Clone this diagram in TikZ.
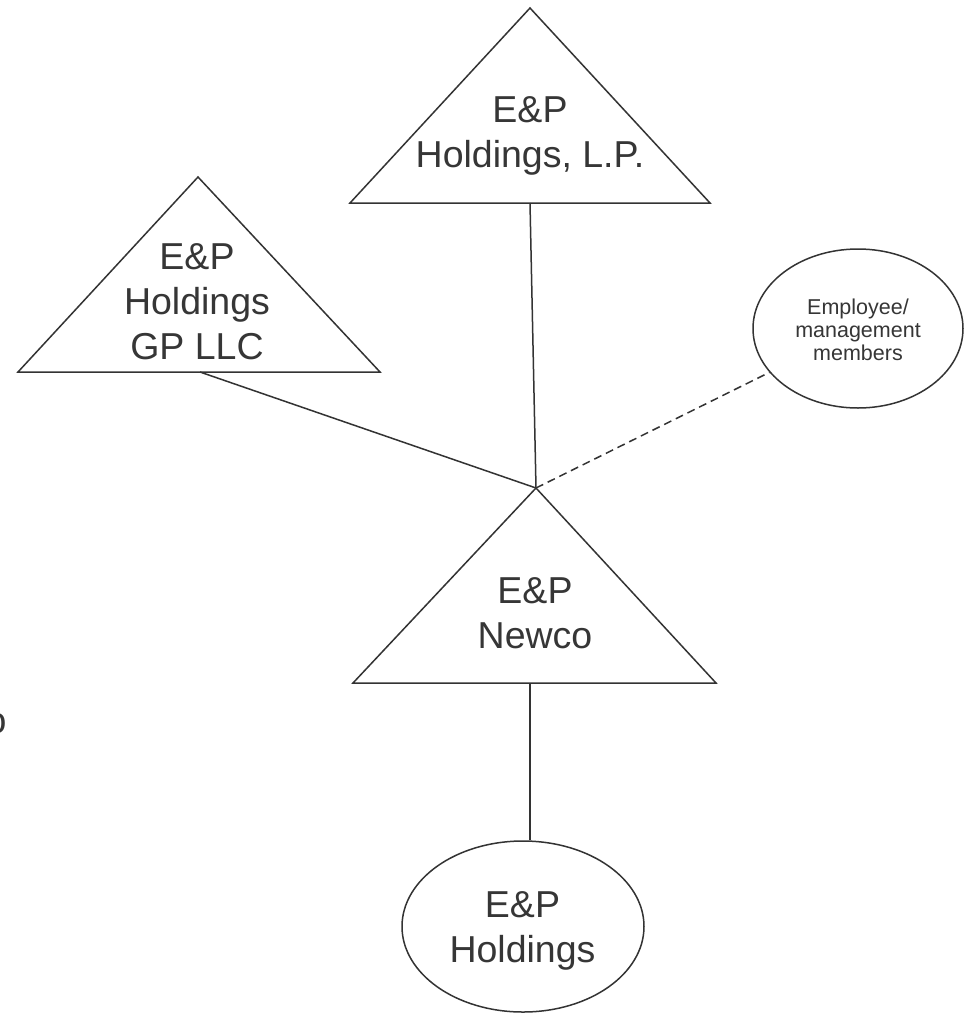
\documentclass[tikz,border=0pt]{standalone}
\usepackage{fontspec}
\setmainfont{Liberation Sans}
\usetikzlibrary{shapes.geometric}
\definecolor{ink}{HTML}{333333}
\definecolor{txt}{HTML}{363636}

\begin{document}
\begin{tikzpicture}[x=1pt,y=-1pt,
  outline/.style={draw=ink, line width=1.5pt, line join=miter},
  link/.style={draw=ink, line width=1.5pt},
  dashlink/.style={draw=ink, line width=1.5pt, dash pattern=on 8pt off 5pt},
  bigtext/.style={font=\fontsize{37.5}{45}\selectfont, text=txt, align=center, inner sep=0pt},
  smalltext/.style={font=\fontsize{21.5}{23}\selectfont, text=txt, align=center, inner sep=0pt},
  oval/.style={ellipse, draw=ink, line width=1.5pt, inner sep=0pt}]

\useasboundingbox (0,0) rectangle (965,1013);
\fill[white] (0,0) rectangle (965,1013);

% E&P Holdings, L.P.
\coordinate (lp-top) at (530,8);
\coordinate (lp-left) at (350,203);
\coordinate (lp-right) at (710,203);
\coordinate (lp-base) at (530,203);
\draw[outline] (lp-top) -- (lp-right) -- (lp-left) -- cycle;
\node[bigtext] (lp) at (530,136) {E\&P\\Holdings, L.P.};

% E&P Holdings GP LLC
\coordinate (gp-top) at (198,177);
\coordinate (gp-left) at (18,372);
\coordinate (gp-right) at (380,372);
\coordinate (gp-base) at (200,372);
\draw[outline] (gp-top) -- (gp-right) -- (gp-left) -- cycle;
\node[bigtext] (gp) at (197,301.5) {E\&P\\Holdings\\GP LLC};

% E&P Newco
\coordinate (nc-top) at (536,488);
\coordinate (nc-left) at (353,683);
\coordinate (nc-right) at (716,683);
\coordinate (nc-base) at (530,683);
\draw[outline] (nc-top) -- (nc-right) -- (nc-left) -- cycle;
\node[bigtext] (nc) at (535,613.5) {E\&P\\Newco};

% Employee / management members
\node[oval, minimum width=210pt, minimum height=159pt] (emp) at (858,328.5) {};
\node[smalltext] (emp-text) at (858,330) {Employee/\\management\\members};

% E&P Holdings
\node[oval, minimum width=242pt, minimum height=171pt] (hold) at (523,926.5) {};
\node[bigtext] (hold-text) at (522.5,931) {E\&P\\Holdings};

% partly visible letter on the left edge
\node[bigtext, anchor=base west] (edge-letter) at (-14.5,733) {o};

% connectors
\draw[link] (lp-base) -- (nc-top);
\draw[link] (gp-base) -- (nc-top);
\draw[dashlink] (nc-top) -- (emp);
\draw[link] (nc-base) -- (nc-base |- hold.north);
\end{tikzpicture}
\end{document}
